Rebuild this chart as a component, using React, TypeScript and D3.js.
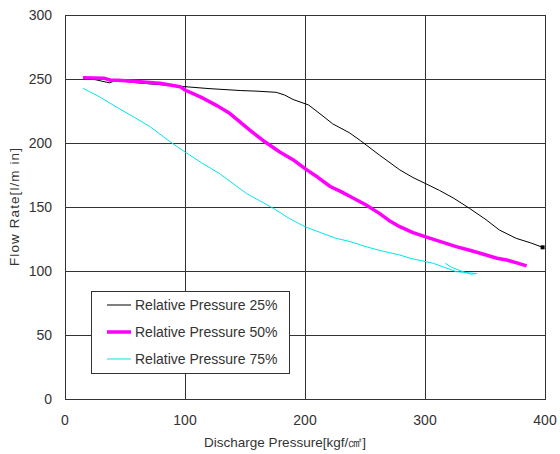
import React from "react";
import * as d3 from "d3";

const xTicks = [0, 100, 200, 300, 400];
const yTicks = [0, 50, 100, 150, 200, 250, 300];

const seriesNames = ["Relative Pressure 25%", "Relative Pressure 50%", "Relative Pressure 75%"];

const p25X = [15, 25, 37, 40, 46, 60, 80, 100, 120, 146, 160, 176, 183, 190, 203, 215, 223, 237, 246, 262, 279, 290, 300, 312, 324, 337, 351, 362, 376, 388, 398];
const p25Y = [250, 249.5, 247, 248, 248.5, 247, 245.5, 244, 242.5, 241, 240.5, 239.6, 237.5, 234, 229.7, 221, 215, 208, 202, 190.6, 179, 173, 168.5, 163, 156.8, 149, 140, 132, 125.5, 122, 118.5];

const p50X = [15, 33, 38, 44, 60, 79, 96, 100, 115, 127, 137.5, 154, 165, 179, 190, 200, 211, 221, 230, 240, 251, 262, 270, 279, 290, 300, 313, 326, 338, 351, 360, 368, 378, 384.7];
const p50Y = [251, 250.5, 249, 249, 248, 246.6, 244, 241.4, 235, 229, 223, 210, 202, 193, 187, 180, 173, 166, 162, 157, 151.6, 145, 139.5, 134.6, 130, 126.8, 123, 119, 116, 112.5, 110, 108.6, 106, 104];

const p75X = [15, 29, 43, 57, 71, 87.5, 100, 113, 129, 151, 173.6, 187, 200, 213, 226, 237.5, 251, 262.5, 279, 287.5, 307, 326, 343, 338, 330, 322, 317];
const p75Y = [242.7, 236, 228, 220.5, 212.7, 201, 193, 185, 176, 160.7, 149, 141, 134.6, 130, 125.5, 123, 119, 116, 112.5, 110, 106, 99.5, 98, 97.5, 100, 103, 106];

const colors = ["#000000", "#ff00ff", "#00e5ee"];
const widths = [1, 3.5, 1];

export default function App() {
  const W = 560, H = 454;
  const x = d3.scaleLinear().domain([0, 400]).range([65, 545]);
  const y = d3.scaleLinear().domain([0, 300]).range([399, 15]);
  const line = d3.line<[number, number]>().x(d => x(d[0])).y(d => y(d[1]));
  const series = [
    p25X.map((v, i) => [v, p25Y[i]] as [number, number]),
    p50X.map((v, i) => [v, p50Y[i]] as [number, number]),
    p75X.map((v, i) => [v, p75Y[i]] as [number, number]),
  ];
  const font = "'Liberation Sans', Arial, sans-serif";
  const last25 = series[0][series[0].length - 1];
  return (
    <svg width={W} height={H} style={{ position: "absolute", left: 0, top: 0, background: "#fff" }} fontFamily={font}>
      <rect x={0} y={0} width={W} height={H} fill="#fff" />
      {yTicks.slice(1, -1).map(t => (
        <line key={"gy" + t} x1={x(0)} x2={x(400)} y1={y(t)} y2={y(t)} stroke="#333" strokeWidth={1} shapeRendering="crispEdges" />
      ))}
      {xTicks.slice(1, -1).map(t => (
        <line key={"gx" + t} x1={x(t)} x2={x(t)} y1={y(0)} y2={y(300)} stroke="#333" strokeWidth={1} shapeRendering="crispEdges" />
      ))}
      <rect x={x(0)} y={y(300)} width={x(400) - x(0)} height={y(0) - y(300)} fill="none" stroke="#333" strokeWidth={1} shapeRendering="crispEdges" />
      {series.map((s, i) => (
        <path key={i} d={line(s) || ""} fill="none" stroke={colors[i]} strokeWidth={widths[i]} strokeLinejoin="round" strokeLinecap="butt" />
      ))}
      <rect x={x(last25[0]) - 2} y={y(last25[1]) - 2} width={4} height={4} fill="#000" />
      {yTicks.map(t => (
        <text key={"ty" + t} x={52} y={y(t)} dy="0.35em" textAnchor="end" fontSize={14} fill="#333">{t}</text>
      ))}
      {xTicks.map(t => (
        <text key={"tx" + t} x={x(t)} y={425} textAnchor="middle" fontSize={14} fill="#333">{t}</text>
      ))}
      <text x={285} y={447} textAnchor="middle" fontSize={13.5} fill="#333">Discharge Pressure[kgf/㎠]</text>
      <text transform={`translate(19,207) rotate(-90)`} textAnchor="middle" fontSize={13.5} fill="#333" textLength={118} lengthAdjust="spacing">Flow Rate[l/m in]</text>
      <rect x={91.5} y={291.5} width={198} height={82} fill="#fff" stroke="#333" strokeWidth={1} />
      {seriesNames.map((n, i) => (
        <g key={n}>
          <line x1={107} x2={131} y1={305 + i * 27} y2={305 + i * 27} stroke={colors[i]} strokeWidth={widths[i]} />
          <text x={135} y={305 + i * 27} dy="0.35em" fontSize={14} fill="#333">{n}</text>
        </g>
      ))}
    </svg>
  );
}
